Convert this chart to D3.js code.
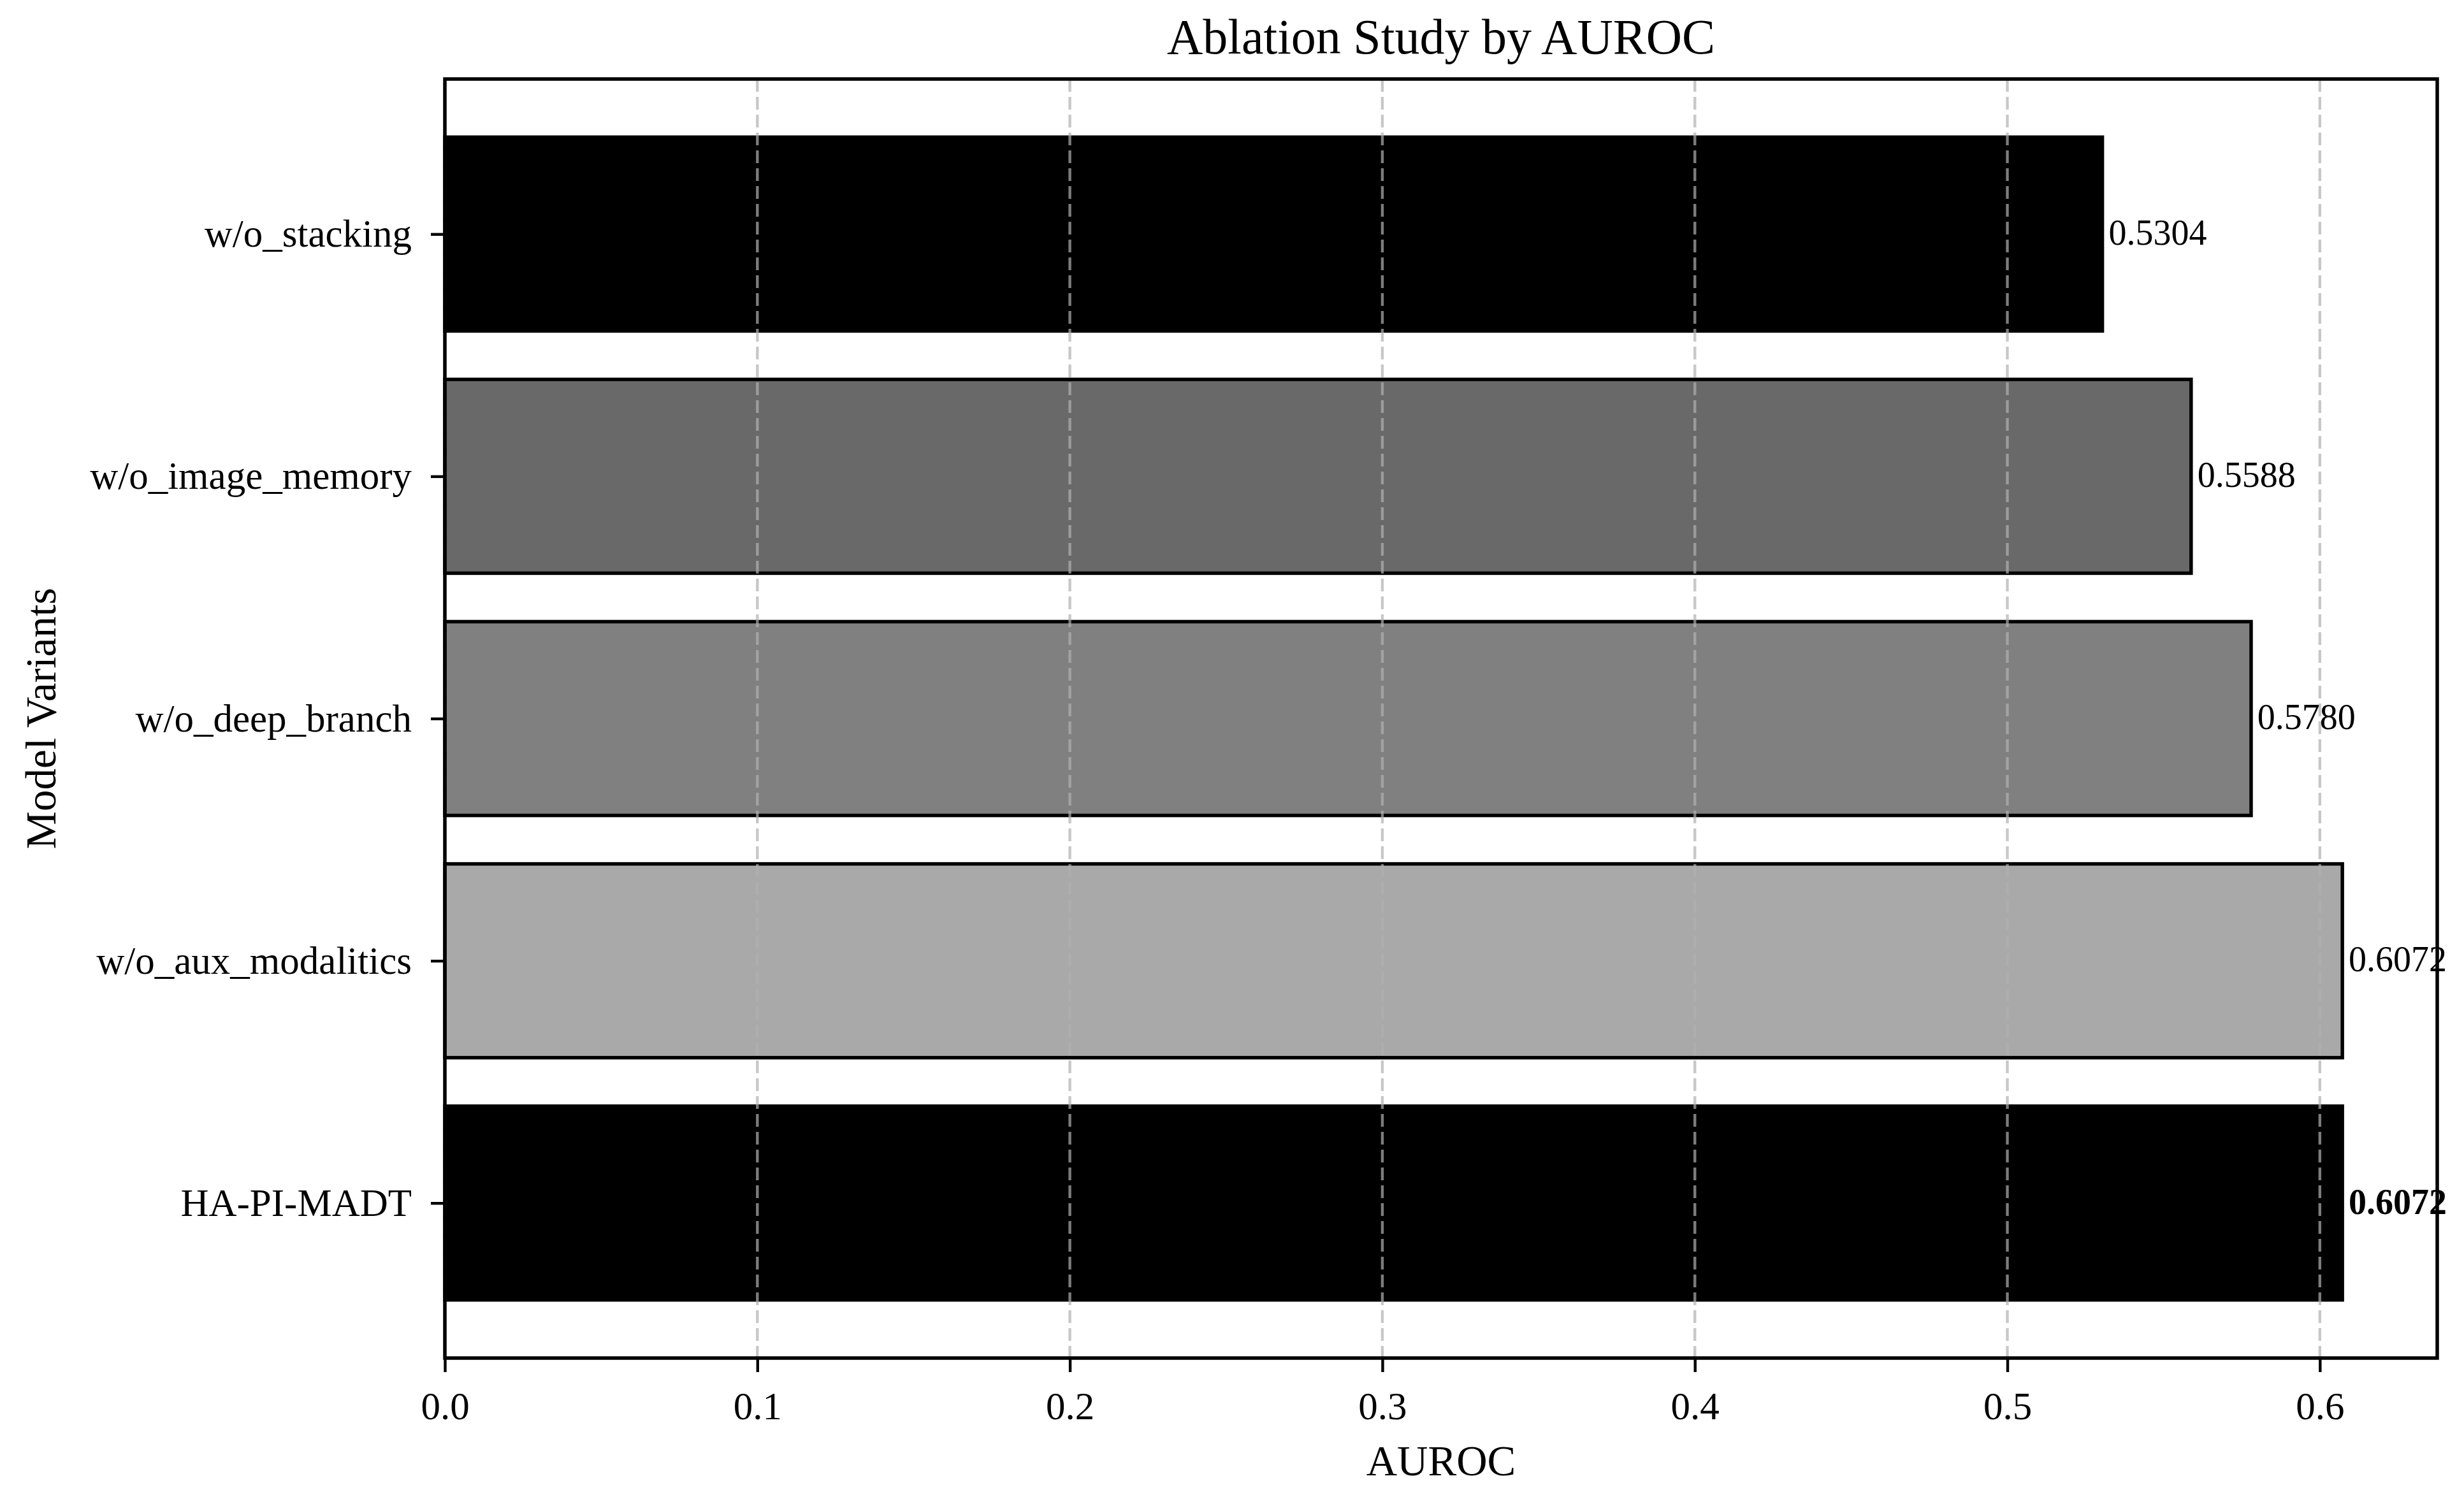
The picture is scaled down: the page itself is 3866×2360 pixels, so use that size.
<!DOCTYPE html>
<html>
<head>
<meta charset="utf-8">
<script src="https://cdn.jsdelivr.net/npm/d3@7"></script>
<style>
  html, body { margin: 0; padding: 0; background: #fff; }
  svg { display: block; }
  text { font-family: "Liberation Serif", "Times New Roman", serif; fill: #000; }
</style>
</head>
<body>
<svg id="chart" width="3866" height="2360"></svg>
<script>
// ---- data ----
const categories = ["w/o_stacking", "w/o_image_memory", "w/o_deep_branch", "w/o_aux_modalitics", "HA-PI-MADT"];
const values = [0.5304, 0.5588, 0.5780, 0.6072, 0.6072];
const barColors = ["#000000", "#696969", "#808080", "#a9a9a9", "#000000"];
const boldLabel = [false, false, false, false, true];
const xTicks = [0.0, 0.1, 0.2, 0.3, 0.4, 0.5, 0.6];
const titleText = "Ablation Study by AUROC";
const xLabel = "AUROC";
const yLabel = "Model Variants";

(function () {
  // ---- layout ----
  const W = 3866, H = 2360;
  const pL = 698, pR = 3824, pT = 124, pB = 2131;

  const svg = d3.select("#chart");
  svg.append("rect").attr("width", W).attr("height", H).attr("fill", "#fff");

  const xMax = d3.max(values) * 1.05;
  const x = d3.scaleLinear().domain([0, xMax]).range([pL, pR]);
  const n = categories.length;
  const y = d3.scaleLinear().domain([-0.64, n - 1 + 0.64]).range([pT, pB]);
  const barH = 0.8;

  // bars
  svg.append("g").selectAll("rect")
    .data(values)
    .join("rect")
    .attr("x", x(0))
    .attr("y", (d, i) => y(i - barH / 2))
    .attr("width", d => x(d) - x(0))
    .attr("height", y(barH) - y(0))
    .attr("fill", (d, i) => barColors[i])
    .attr("stroke", "#000")
    .attr("stroke-width", 5.5);

  // grid lines (over bars)
  svg.append("g").selectAll("line")
    .data(xTicks)
    .join("line")
    .attr("x1", d => x(d)).attr("x2", d => x(d))
    .attr("y1", pT).attr("y2", pB)
    .attr("stroke", "#b0b0b0")
    .attr("stroke-opacity", 0.7)
    .attr("stroke-width", 4.4)
    .attr("stroke-dasharray", "20,8");

  // spines
  svg.append("rect")
    .attr("x", pL).attr("y", pT)
    .attr("width", pR - pL).attr("height", pB - pT)
    .attr("fill", "none").attr("stroke", "#000").attr("stroke-width", 5.5);

  // x axis
  const xAxis = d3.axisBottom(x)
    .tickValues(xTicks)
    .tickFormat(d3.format(".1f"))
    .tickSizeInner(22).tickSizeOuter(0).tickPadding(31);
  const gx = svg.append("g").attr("transform", `translate(0,${pB})`).call(xAxis);
  gx.select(".domain").remove();
  gx.selectAll(".tick line").attr("stroke", "#000").attr("stroke-width", 4.4);
  gx.selectAll(".tick text").attr("font-size", 61).attr("font-family", "Liberation Serif");

  // y axis
  const yAxis = d3.axisLeft(y)
    .tickValues(d3.range(n))
    .tickFormat(i => categories[i])
    .tickSizeInner(22).tickSizeOuter(0).tickPadding(30);
  const gy = svg.append("g").attr("transform", `translate(${pL},0)`).call(yAxis);
  gy.select(".domain").remove();
  gy.selectAll(".tick line").attr("stroke", "#000").attr("stroke-width", 4.4);
  gy.selectAll(".tick text").attr("font-size", 61).attr("font-family", "Liberation Serif");

  // value labels
  svg.append("g").selectAll("text")
    .data(values)
    .join("text")
    .attr("x", d => x(d + 0.002))
    .attr("y", (d, i) => y(i))
    .attr("dy", "0.3em")
    .attr("font-size", 56)
    .attr("font-weight", (d, i) => boldLabel[i] ? "bold" : "normal")
    .text(d => d.toFixed(4));

  // title
  svg.append("text")
    .attr("x", (pL + pR) / 2).attr("y", 84)
    .attr("text-anchor", "middle")
    .attr("font-size", 78)
    .text(titleText);

  // x label
  svg.append("text")
    .attr("x", (pL + pR) / 2).attr("y", 2315)
    .attr("text-anchor", "middle")
    .attr("font-size", 67)
    .text(xLabel);

  // y label
  svg.append("text")
    .attr("transform", `translate(87,${(pT + pB) / 2}) rotate(-90)`)
    .attr("text-anchor", "middle")
    .attr("font-size", 67)
    .text(yLabel);
})();
</script>
</body>
</html>
